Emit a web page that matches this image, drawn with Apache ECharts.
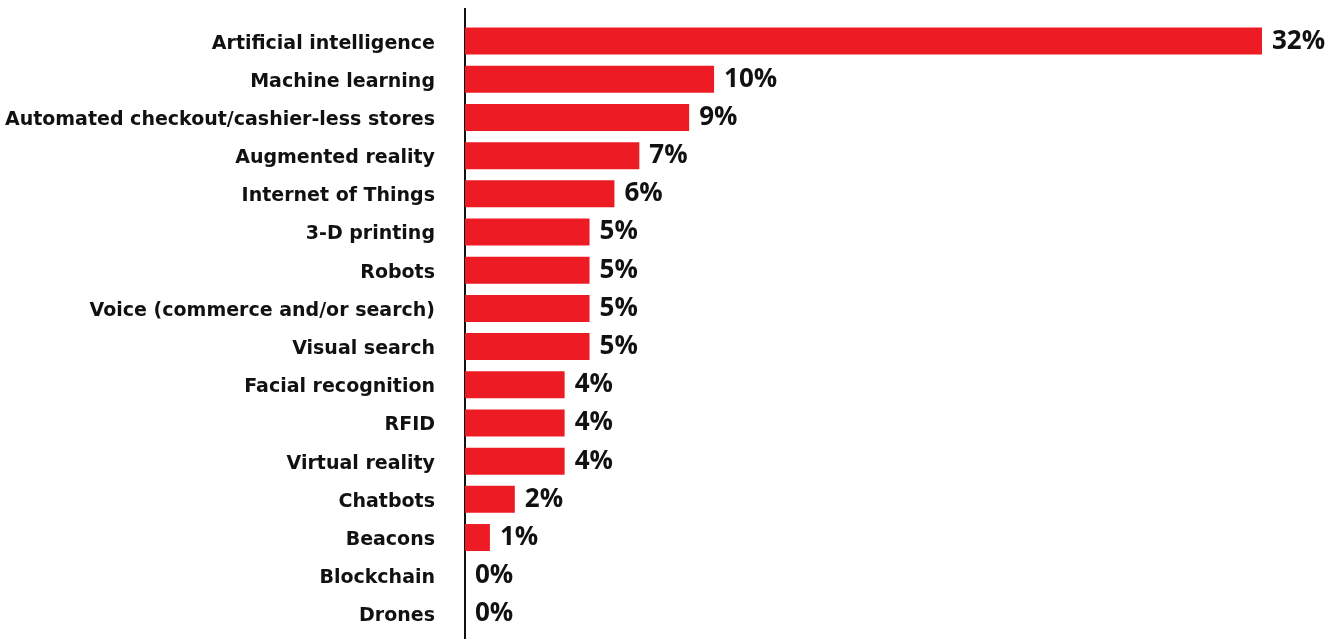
<!DOCTYPE html>
<html>
<head>
<meta charset="utf-8">
<script src="https://cdn.jsdelivr.net/npm/echarts@6/dist/echarts.min.js"></script>
<style>
  html, body { margin: 0; padding: 0; background: #fff; }
  #chart { width: 1342px; height: 639px; }
</style>
</head>
<body>
<div id="chart"></div>
<script>
// Retail technologies and the share of respondents naming each one
const categories = [
  'Artificial intelligence',
  'Machine learning',
  'Automated checkout/cashier-less stores',
  'Augmented reality',
  'Internet of Things',
  '3-D printing',
  'Robots',
  'Voice (commerce and/or search)',
  'Visual search',
  'Facial recognition',
  'RFID',
  'Virtual reality',
  'Chatbots',
  'Beacons',
  'Blockchain',
  'Drones'
];
const shares = [32, 10, 9, 7, 6, 5, 5, 5, 5, 4, 4, 4, 2, 1, 0, 0];

const chart = echarts.init(document.getElementById('chart'));
const CAT_FONT = '"DejaVu Sans", "Open Sans", sans-serif';
const VAL_FONT = '"Open Sans", "DejaVu Sans", sans-serif';

chart.setOption({
  animation: false,
  grid: { left: 465, right: 80, top: 22, bottom: 6, containLabel: false },
  xAxis: {
    type: 'value', min: 0, max: 32,
    show: false
  },
  yAxis: {
    type: 'category',
    data: categories,
    inverse: true,
    axisLine: { show: false },
    axisTick: { show: false },
    axisLabel: {
      margin: 30,
      formatter: (v) => '{c|' + v + '}',
      rich: {
        c: {
          color: '#111',
          fontFamily: CAT_FONT,
          fontWeight: 700,
          fontSize: 19,
          padding: [5, 0, 0, 0]
        }
      }
    }
  },
  graphic: [{
    type: 'line',
    shape: { x1: 465, y1: 8, x2: 465, y2: 639 },
    style: { stroke: '#111', lineWidth: 2 }
  }],
  series: [{
    type: 'bar',
    data: shares,
    barWidth: 27,
    itemStyle: { color: '#ED1C24' },
    label: {
      show: true,
      position: 'right',
      distance: 10,
      formatter: '{c}%',
      color: '#111',
      fontFamily: VAL_FONT,
      fontWeight: 700,
      fontSize: 26
    }
  }]
});
</script>
</body>
</html>
